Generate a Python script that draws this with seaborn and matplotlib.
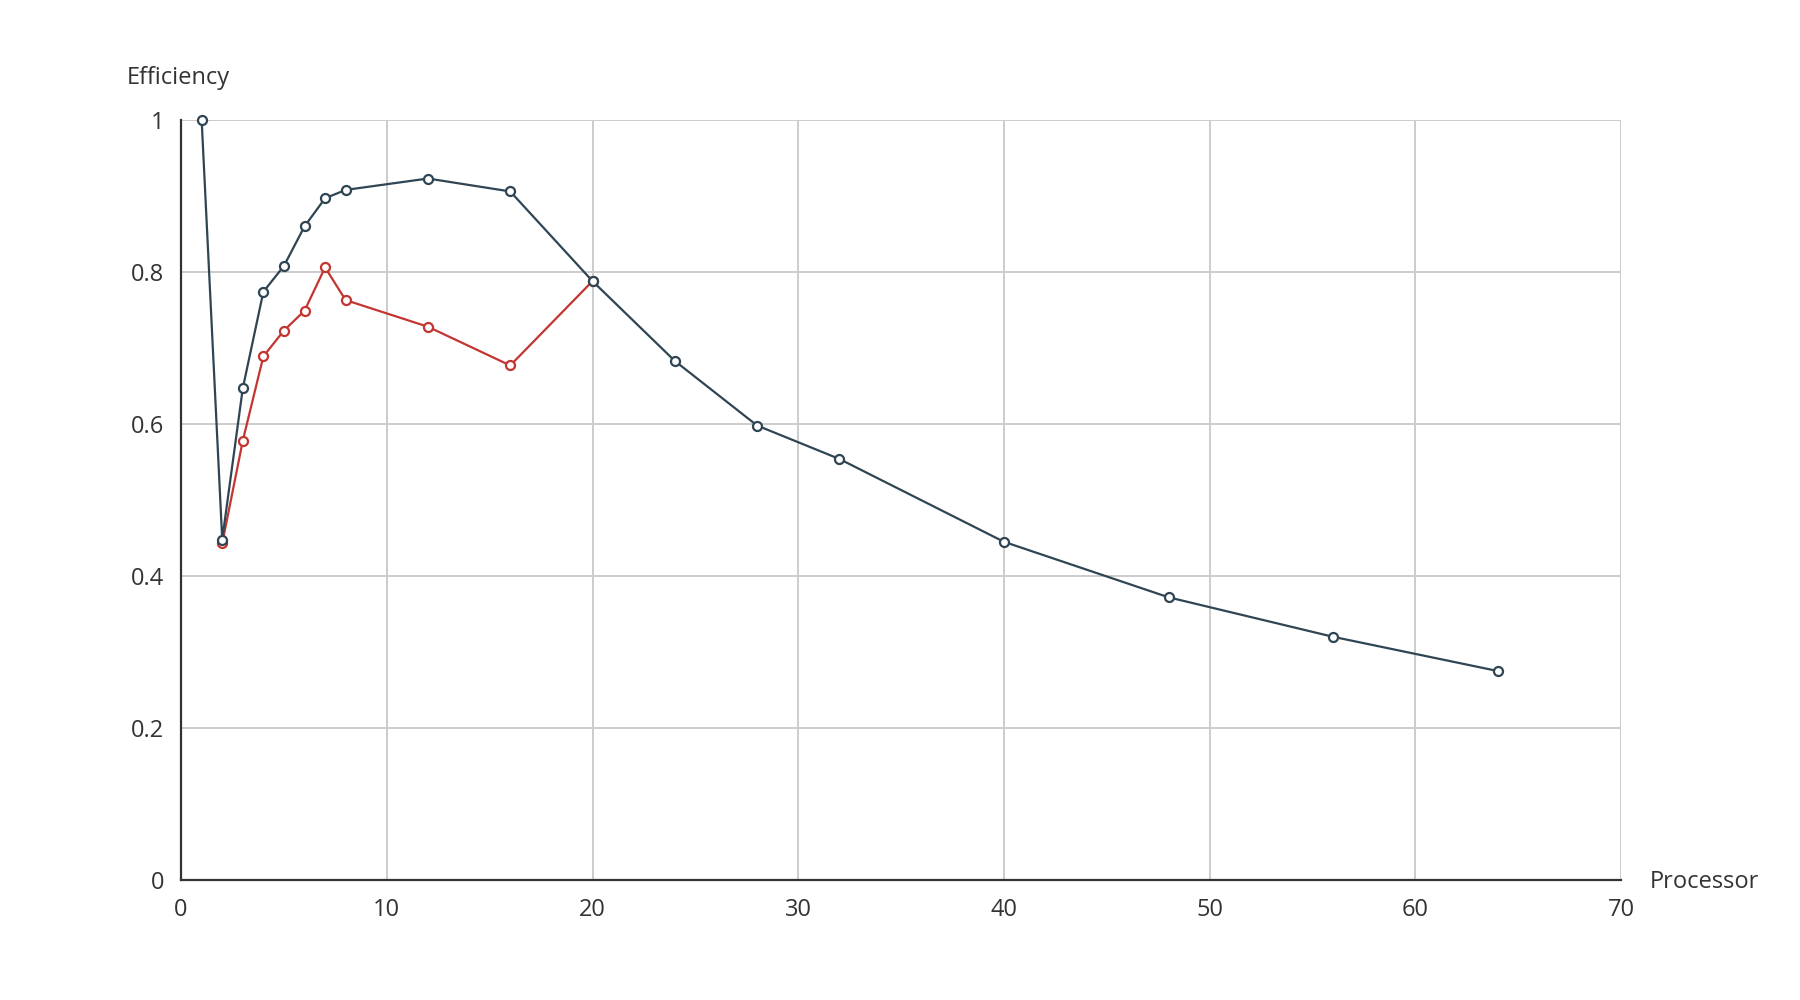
import numpy as np
import pandas as pd
import matplotlib
matplotlib.use("Agg")
import matplotlib.pyplot as plt
import seaborn as sns

# processors and efficiency, series 1 (red) and series 2 (dark)
proc_red = [2, 3, 4, 5, 6, 7, 8, 12, 16, 20]
eff_red = [0.443, 0.578, 0.689, 0.723, 0.749, 0.806, 0.763, 0.728, 0.677, 0.788]

proc_dark = [1, 2, 3, 4, 5, 6, 7, 8, 12, 16, 20, 24, 28, 32, 40, 48, 56, 64]
eff_dark = [1.0, 0.448, 0.647, 0.774, 0.808, 0.860, 0.897, 0.908, 0.923, 0.906,
            0.788, 0.683, 0.598, 0.554, 0.445, 0.372, 0.320, 0.275]

x_ticks = [0, 10, 20, 30, 40, 50, 60, 70]
y_ticks = [0, 0.2, 0.4, 0.6, 0.8, 1]
y_tick_labels = ["0", "0.2", "0.4", "0.6", "0.8", "1"]

df = pd.concat([
    pd.DataFrame({"Processor": proc_red, "Efficiency": eff_red, "serie": "a"}),
    pd.DataFrame({"Processor": proc_dark, "Efficiency": eff_dark, "serie": "b"}),
])

sns.set_style("white")
plt.rcParams["font.family"] = ["Open Sans", "DejaVu Sans"]

fig = plt.figure(figsize=(18, 10), dpi=100)
ax = fig.add_axes([0.1006, 0.12, 0.8, 0.76])

sns.lineplot(
    data=df, x="Processor", y="Efficiency", hue="serie",
    palette={"a": "#c23531", "b": "#2f4554"}, sort=False,
    marker="o", markersize=6.5, markerfacecolor="white", markeredgewidth=1.6,
    linewidth=1.6, legend=False, ax=ax, zorder=3,
)
# make marker edges follow line colours
for line in ax.get_lines():
    line.set_markeredgecolor(line.get_color())
    line.set_clip_on(False)

ax.set_xlim(0, 70)
ax.set_ylim(0, 1)
ax.set_xticks(x_ticks)
ax.set_yticks(y_ticks)
ax.set_yticklabels(y_tick_labels)
ax.grid(True, color="#cccccc", linewidth=1.4)
ax.set_axisbelow(True)

sns.despine(ax=ax)
for s in ["left", "bottom"]:
    ax.spines[s].set_color("#333333")
    ax.spines[s].set_linewidth(1.6)
ax.tick_params(axis="both", direction="out", length=6, width=1.6, color="#333333",
               labelsize=17, labelcolor="#333333", pad=6)
ax.tick_params(axis="x", pad=7)

ax.set_xlabel("")
ax.set_ylabel("")
fig.text(0.0706, 0.922, "Efficiency", fontsize=17, color="#333333", va="center", ha="left")
fig.text(0.9166, 0.118, "Processor", fontsize=17, color="#333333", va="center", ha="left")

fig.savefig("out.png", dpi=100, facecolor="white")
